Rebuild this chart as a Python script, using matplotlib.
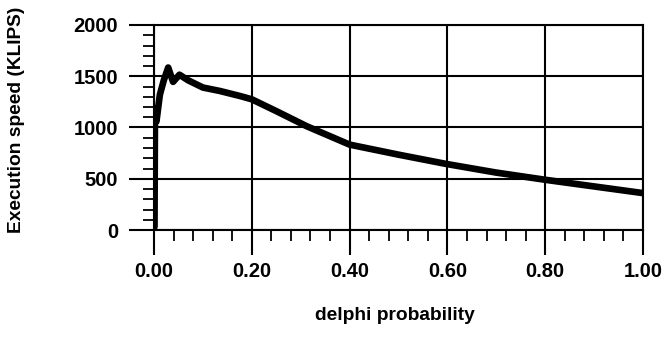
import matplotlib
matplotlib.use("Agg")
import matplotlib.pyplot as plt
from matplotlib.ticker import MultipleLocator, FormatStrFormatter

# Data
delphi_prob = [0.001, 0.002, 0.005, 0.012, 0.020, 0.029, 0.039, 0.052, 0.07, 0.10, 0.135,
               0.176, 0.20, 0.25, 0.312, 0.40, 0.50, 0.597, 0.70, 0.80, 0.90, 1.00]
speed_klips = [30, 1180, 1060, 1320, 1460, 1585, 1445, 1515, 1460, 1390, 1356,
               1307, 1275, 1160, 1013, 833, 735, 645, 560, 490, 425, 360]

x_ticks = [0.0, 0.2, 0.4, 0.6, 0.8, 1.0]
y_ticks = [0, 500, 1000, 1500, 2000]

plt.rcParams['font.family'] = ['Liberation Sans', 'DejaVu Sans']

fig = plt.figure(figsize=(6.67, 3.51), dpi=100)
ax = fig.add_axes([154/667, 1 - 230/351, (643-154)/667, (230-25)/351])

ax.plot(delphi_prob, speed_klips, color='black', lw=4.8, solid_joinstyle='round',
        solid_capstyle='round', zorder=3)

ax.set_xlim(0, 1)
ax.set_ylim(0, 2000)
ax.set_xticks(x_ticks)
ax.set_yticks(y_ticks)
ax.xaxis.set_major_formatter(FormatStrFormatter('%.2f'))
ax.xaxis.set_minor_locator(MultipleLocator(0.04))
ax.yaxis.set_minor_locator(MultipleLocator(100))

ax.grid(True, which='major', color='black', lw=1.5)
for s in ax.spines.values():
    s.set_linewidth(1.5)
    s.set_color('black')

ax.tick_params(which='major', direction='out', length=18, width=1.5, color='black',
               labelsize=14.5, pad=5)
ax.tick_params(which='minor', direction='out', length=8, width=1.3, color='black')
ax.tick_params(axis='y', which='major', pad=8)
for lab in ax.get_xticklabels() + ax.get_yticklabels():
    lab.set_fontweight('bold')

fig.text(17/667, 1 - 120/351, 'Execution speed (KLIPS)', rotation=90, ha='center',
         va='center', fontsize=13.8, fontweight='bold')
fig.text(395/667, 1 - 315/351, 'delphi probability', ha='center', va='center',
         fontsize=13.8, fontweight='bold')

fig.savefig('out.png', dpi=100)
